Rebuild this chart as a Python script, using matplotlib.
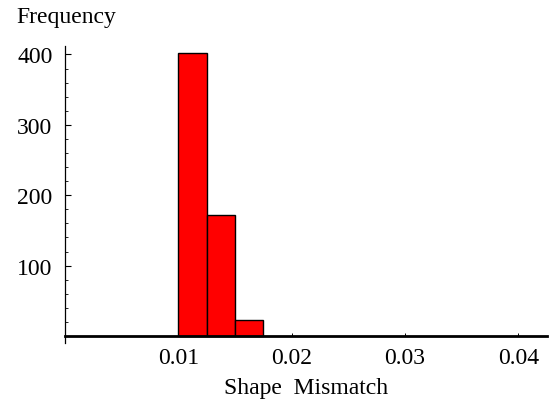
import numpy as np
import matplotlib
matplotlib.use('Agg')
import matplotlib.pyplot as plt
from matplotlib.ticker import MultipleLocator, FixedLocator

matplotlib.rcParams['font.family'] = ['Liberation Serif', 'DejaVu Serif']

# histogram bins (shape mismatch) and counts
bin_edges = [0.01, 0.0125, 0.015, 0.0175]
counts = [402, 172, 23]
x_ticks = [0.01, 0.02, 0.03, 0.04]
x_tick_labels = ['0.01', '0.02', '0.03', '0.04']
y_ticks = [100, 200, 300, 400]

fig = plt.figure(figsize=(5.5, 4.02), dpi=100)
ax = fig.add_axes([65/550, 1 - 344/402, (547 - 65)/550, (344 - 47)/402])

widths = np.diff(bin_edges)
ax.bar(bin_edges[:-1], counts, width=widths, align='edge',
       color='#ff0000', edgecolor='black', linewidth=1.0, zorder=2)

ax.set_xlim(0, 0.04254)
ax.set_ylim(-10, 412)

for s in ['top', 'right']:
    ax.spines[s].set_visible(False)
ax.spines['bottom'].set_position(('data', 0))
ax.spines['bottom'].set_linewidth(2.0)
ax.spines['bottom'].set_zorder(3)
ax.spines['left'].set_linewidth(0.9)

ax.xaxis.set_major_locator(FixedLocator(x_ticks))
ax.set_xticklabels(x_tick_labels)
ax.yaxis.set_major_locator(FixedLocator(y_ticks))
ax.yaxis.set_minor_locator(MultipleLocator(20))

ax.tick_params(axis='x', direction='in', length=2.5, width=0.7, pad=8, labelsize=17)
ax.tick_params(axis='y', which='major', direction='in', length=4, width=0.8, pad=9, labelsize=17)
ax.tick_params(axis='y', which='minor', direction='in', length=2.5, width=0.6)

fig.text(16/550, 1 - 18/402, 'Frequency', ha='left', va='center', fontsize=17)
fig.text(306/550, 1 - 389/402, 'Shape  Mismatch', ha='center', va='center', fontsize=17)

fig.savefig('out.png', dpi=100)
